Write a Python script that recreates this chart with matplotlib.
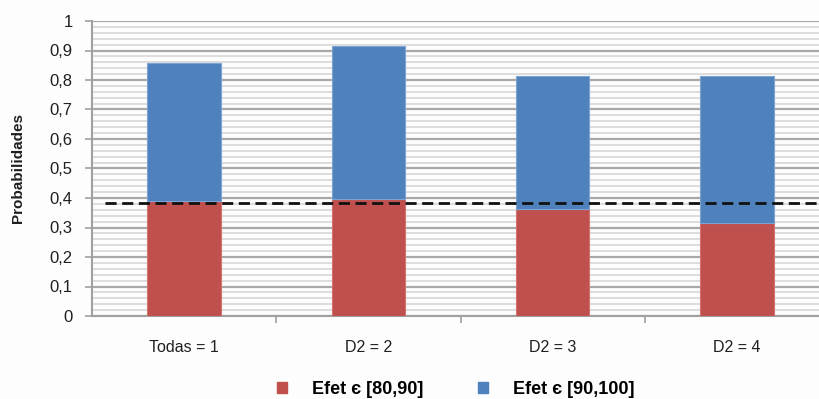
import matplotlib
matplotlib.use("Agg")
import matplotlib.pyplot as plt
from matplotlib.patches import Patch
from matplotlib.ticker import MultipleLocator, FuncFormatter

categories = ["Todas = 1", "D2 = 2", "D2 = 3", "D2 = 4"]
efet_80_90 = [0.39, 0.395, 0.362, 0.314]
efet_90_100 = [0.468, 0.52, 0.452, 0.50]
reference_level = 0.382
series_labels = ["Efet \u0454 [80,90]", "Efet \u0454 [90,100]"]

plt.rcParams["font.family"] = ["Liberation Sans", "DejaVu Sans"]

red = "#C0504D"
blue = "#4F81BD"
text_color = "#1f1f1f"

fig = plt.figure(figsize=(8.19, 3.99), dpi=100, facecolor="#fdfdfd")
ax = fig.add_axes([92 / 819, 1 - 316 / 399, 737 / 819, 295 / 399])
ax.set_facecolor("#fdfdfd")

x = list(range(len(categories)))
ax.bar(x, efet_80_90, width=0.4, color=red, edgecolor="#d47370", linewidth=0.8, zorder=3)
ax.bar(x, efet_90_100, width=0.4, bottom=efet_80_90, color=blue,
       edgecolor="#7ba3d4", linewidth=0.8, zorder=3)

ax.plot([-0.43, 3.5], [reference_level, reference_level], color="#111111",
        linestyle=(0, (4, 2)), linewidth=2, zorder=4)

ax.set_xlim(-0.5, 3.5)
ax.set_ylim(0, 1)
ax.yaxis.set_major_locator(MultipleLocator(0.1))
ax.yaxis.set_minor_locator(MultipleLocator(0.02))
ax.yaxis.set_major_formatter(FuncFormatter(lambda v, p: ("%g" % round(v, 1)).replace(".", ",")))
ax.grid(which="major", axis="y", color="#a8a8a8", linewidth=1.6, zorder=1)
ax.grid(which="minor", axis="y", color="#d4d4d4", linewidth=1.1, zorder=1)

ax.set_xticks(x)
ax.set_xticklabels(categories, fontsize=11.5, color=text_color)
ax.set_xticks([0.5, 1.5, 2.5], minor=True)
ax.tick_params(axis="x", which="major", length=0, pad=17)
ax.tick_params(axis="x", which="minor", length=5, color="#a0a0a0", width=1.2)
ax.tick_params(axis="y", which="major", length=5, color="#a0a0a0", width=1.2,
               labelsize=12, labelcolor=text_color, pad=9)
ax.tick_params(axis="y", which="minor", length=0)

for side in ("top", "right"):
    ax.spines[side].set_visible(False)
for side in ("left", "bottom"):
    ax.spines[side].set_color("#a0a0a0")
    ax.spines[side].set_linewidth(1.5)

fig.text(18 / 819, 1 - 168 / 399, "Probabilidades", rotation=90, fontsize=11,
         fontweight="bold", ha="center", va="center", color=text_color)

handles = [Patch(facecolor=red, edgecolor=red), Patch(facecolor=blue, edgecolor=blue)]
fig.legend(handles, series_labels, loc="center", bbox_to_anchor=(456 / 819, 1 - 389 / 399),
           ncol=2, frameon=False, prop={"weight": "bold", "size": 13},
           handlelength=0.55, handleheight=0.55, handletextpad=1.4, columnspacing=3.0)

fig.savefig("out.png", dpi=100, facecolor=fig.get_facecolor())
